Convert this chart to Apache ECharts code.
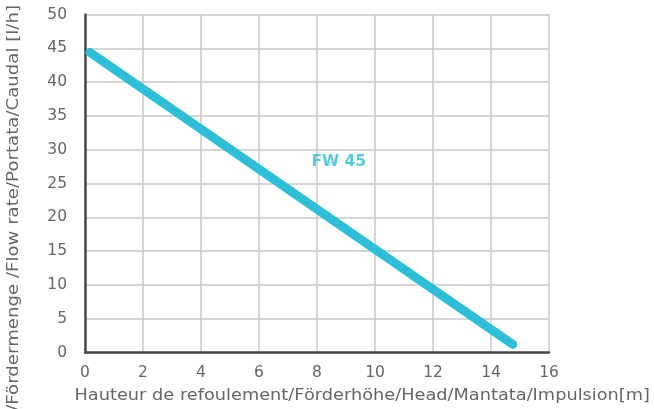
<!DOCTYPE html>
<html><head><meta charset="utf-8">
<script src="https://cdn.jsdelivr.net/npm/echarts@6/dist/echarts.min.js"></script>
<style>html,body{margin:0;padding:0;background:#fff}#c{width:654px;height:409px}</style>
</head><body><div id="c"></div>
<script>
const xTicks = [0, 2, 4, 6, 8, 10, 12, 14, 16];
const yTicks = [0, 5, 10, 15, 20, 25, 30, 35, 40, 45, 50];
const head = [0.17, 14.75];
const flow = [44.4, 1.2];
const seriesName = 'FW 45';
const labelPos = [8.75, 28.2];
const xTitle = 'Hauteur de refoulement/Förderhöhe/Head/Mantata/Impulsion[m]';
const yTitle = '/Fördermenge /Flow rate/Portata/Caudal [l/h]';

const FONT = '"DejaVu Sans"';
const chart = echarts.init(document.getElementById('c'));
chart.setOption({
  animation: false,
  grid: {left: 85, right: 105, top: 14.5, bottom: 56.5, containLabel: false},
  xAxis: {
    type: 'value', min: xTicks[0], max: xTicks[xTicks.length-1], interval: 2,
    axisLine: {show: true, onZero: false, lineStyle: {color: '#4a4a4a', width: 2.5}},
    axisTick: {show: false},
    axisLabel: {color: '#666', fontFamily: FONT, fontSize: 15.5, margin: 12},
    splitLine: {show: true, lineStyle: {color: '#c8c8cc', width: 1.5}}
  },
  yAxis: {
    type: 'value', min: yTicks[0], max: yTicks[yTicks.length-1], interval: 5,
    axisLine: {show: true, onZero: false, lineStyle: {color: '#4a4a4a', width: 2.5}},
    axisTick: {show: false},
    axisLabel: {color: '#666', fontFamily: FONT, fontSize: 15.5, margin: 18},
    splitLine: {show: true, lineStyle: {color: '#c8c8cc', width: 1.5}}
  },
  graphic: [
    {type: 'text', x: 650, y: 396, scaleX: 1.145, style: {text: xTitle, fill: '#666', font: '15.5px ' + FONT, textAlign: 'right', textVerticalAlign: 'middle'}},
    {type: 'text', x: 14, y: 5, rotation: Math.PI/2, scaleX: 1.17, style: {text: yTitle, fill: '#666', font: '15.5px ' + FONT, textAlign: 'right', textVerticalAlign: 'middle'}}
  ],
  series: [
    {
      type: 'line', name: seriesName, data: head.map((h, i) => [h, flow[i]]),
      symbol: 'none', lineStyle: {color: '#2cbfd7', width: 9, cap: 'round'}
    },
    {
      type: 'scatter', data: [labelPos], symbolSize: 0,
      label: {show: true, position: 'inside', formatter: seriesName, color: '#2cbfd7', fontFamily: FONT, fontWeight: 'bold', fontSize: 15.5}
    }
  ]
});
</script></body></html>
